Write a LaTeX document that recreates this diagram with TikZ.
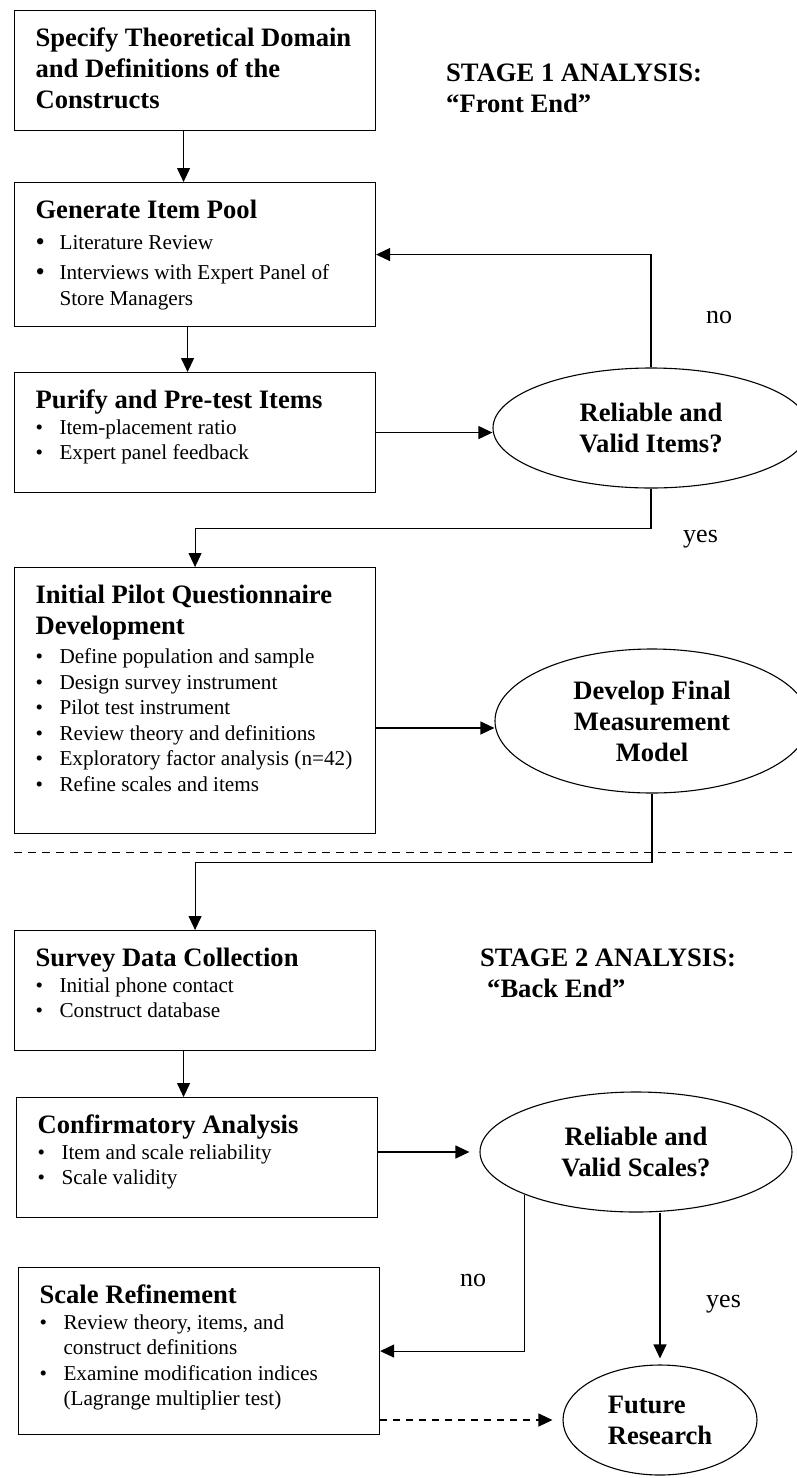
\documentclass[tikz,border=0pt]{standalone}
\usepackage{fontspec}
\setmainfont{Liberation Serif}
\usepackage{tikz}
\usetikzlibrary{shapes.geometric,arrows.meta,positioning,calc}

\newcommand{\hfont}{\fontsize{26.6}{31}\selectfont\bfseries\spaceskip=0pt\xspaceskip=0pt\relax}
\newcommand{\bfont}{\fontsize{21.2}{25.5}\selectfont\spaceskip=0pt\xspaceskip=0pt\relax}
\newcommand{\itm}[1]{\par\noindent\makebox[24pt][l]{\textbullet}\mbox{#1}}
\newcommand{\bigitm}[1]{\par\noindent\makebox[24pt][l]{\raisebox{-1pt}{\scalebox{1.25}{\textbullet}}}\mbox{#1}}
\newcommand{\cont}[1]{\par\noindent\hspace*{24pt}\mbox{#1}}

\tikzset{
  stagebox/.style={draw, line width=1.1pt, rectangle, anchor=north west, inner xsep=21pt, inner ysep=0pt,
    text width=319pt, align=left, text height=36pt},
  decision/.style={draw, line width=1.1pt, ellipse, inner sep=0pt, align=center, font=\hfont},
  arr/.style={line width=1.1pt, -{Triangle[length=14pt,width=13pt]}},
  answer/.style={font=\fontsize{26}{30}\selectfont, inner sep=0pt, anchor=base west},
  stagelabel/.style={font=\hfont, align=left, inner sep=0pt, anchor=base west},
}

\begin{document}
\begin{tikzpicture}[x=1pt, y=-1pt]
    \useasboundingbox (0,0) rectangle (796,1478);

    % stage 1
    \node[stagebox, text depth=84pt] (spec) at (14,10)
        {\hfont Specify Theoretical Domain\par and Definitions of the\par Constructs\par};
    \node[stagebox, text depth=108pt] (pool) at (14,182)
        {{\hfont Generate Item Pool\par}\bfont\setlength{\parskip}{5pt}
         \bigitm{Literature Review}
         \bigitm{Interviews with Expert Panel of}
         \setlength{\parskip}{0pt}\cont{Store Managers}\par};
    \node[stagebox, text depth=84pt] (purify) at (14,372)
        {{\hfont Purify and Pre-test Items\par}\bfont
         \itm{Item-placement ratio}
         \itm{Expert panel feedback}\par};
    \node[stagebox, text depth=230pt] (pilot) at (14,567)
        {{\hfont Initial Pilot Questionnaire\par Development\par}\bfont\vspace{3.5pt}
         \itm{Define population and sample}
         \itm{Design survey instrument}
         \itm{Pilot test instrument}
         \itm{Review theory and definitions}
         \itm{Exploratory factor analysis (n=42)}
         \itm{Refine scales and items}\par};

    \node[decision, minimum width=316pt, minimum height=120pt] (rel1) at (651,428)
        {Reliable and\\Valid Items?};
    \node[decision, minimum width=314pt, minimum height=144pt] (dfm) at (652,721)
        {Develop Final\\Measurement\\Model};

    \node[stagelabel] (st1) at (446,112) {STAGE 1 ANALYSIS:\\“Front End”};
    \node[answer] (no1) at (706,323) {no};
    \node[answer] (yes1) at (683,542) {yes};

    \coordinate (divL) at (14,852);
    \coordinate (divR) at (796,852);
    \coordinate (dfmIn) at ($(dfm.west)+(0,7)$);

    % stage 2
    \node[stagebox, text depth=84pt] (survey) at (14,930)
        {{\hfont Survey Data Collection\par}\bfont
         \itm{Initial phone contact}
         \itm{Construct database}\par};
    \node[stagebox, text depth=84pt] (confirm) at (16,1097)
        {{\hfont Confirmatory Analysis\par}\bfont
         \itm{Item and scale reliability}
         \itm{Scale validity}\par};
    \node[stagebox, text depth=131pt] (refine) at (18,1267)
        {{\hfont Scale Refinement\par}\bfont
         \itm{Review theory, items, and}
         \cont{construct definitions}
         \itm{Examine modification indices}
         \cont{(Lagrange multiplier test)}\par};

    \node[decision, minimum width=312pt, minimum height=120pt] (rel2) at (636,1152)
        {Reliable and\\Valid Scales?};
    \node[decision, align=left, minimum width=194pt, minimum height=110pt] (fut) at (660,1420)
        {Future\\Research};

    \node[stagelabel] (st2) at (480,997) {STAGE 2 ANALYSIS:\\\hspace*{7pt}“Back End”};
    \node[answer] (no2) at (460,1286) {no};
    \node[answer] (yes2) at (706,1307) {yes};

    \draw[arr] ([xshift=-11.5pt]spec.south) -- ([xshift=-11.5pt]spec.south |- pool.north);
    \draw[arr] ([xshift=-7.5pt]pool.south) -- ([xshift=-7.5pt]pool.south |- purify.north);
    \draw[arr] (purify.east) -- (purify.east -| rel1.west);
    \draw[arr] (rel1.north) |- (pool.east);
    \draw[arr] (rel1.south) -- ++(0,40) -| (pilot.north);
    \draw[arr] (pilot.east |- dfmIn) -- (dfmIn);
    \draw[arr] (dfm.south) -- ++(0,69) -| (survey.north);
    \draw[line width=1pt, dash pattern=on 8pt off 6pt] (divL) -- (divR);

    \draw[arr] ([xshift=-11.5pt]survey.south) -- ([xshift=-11.5pt]survey.south |- confirm.north);
    \draw[arr, shorten >=10pt] (rel2.west -| confirm.east) -- (rel2.west);
    \draw[arr] (rel2.201) |- (refine.east);
    \draw[arr, shorten >=6pt] (fut.north |- rel2.south) -- (fut.north);
    \draw[arr, dash pattern=on 7pt off 6pt, shorten >=10pt] (fut.west -| refine.east) -- (fut.west);
\end{tikzpicture}
\end{document}
